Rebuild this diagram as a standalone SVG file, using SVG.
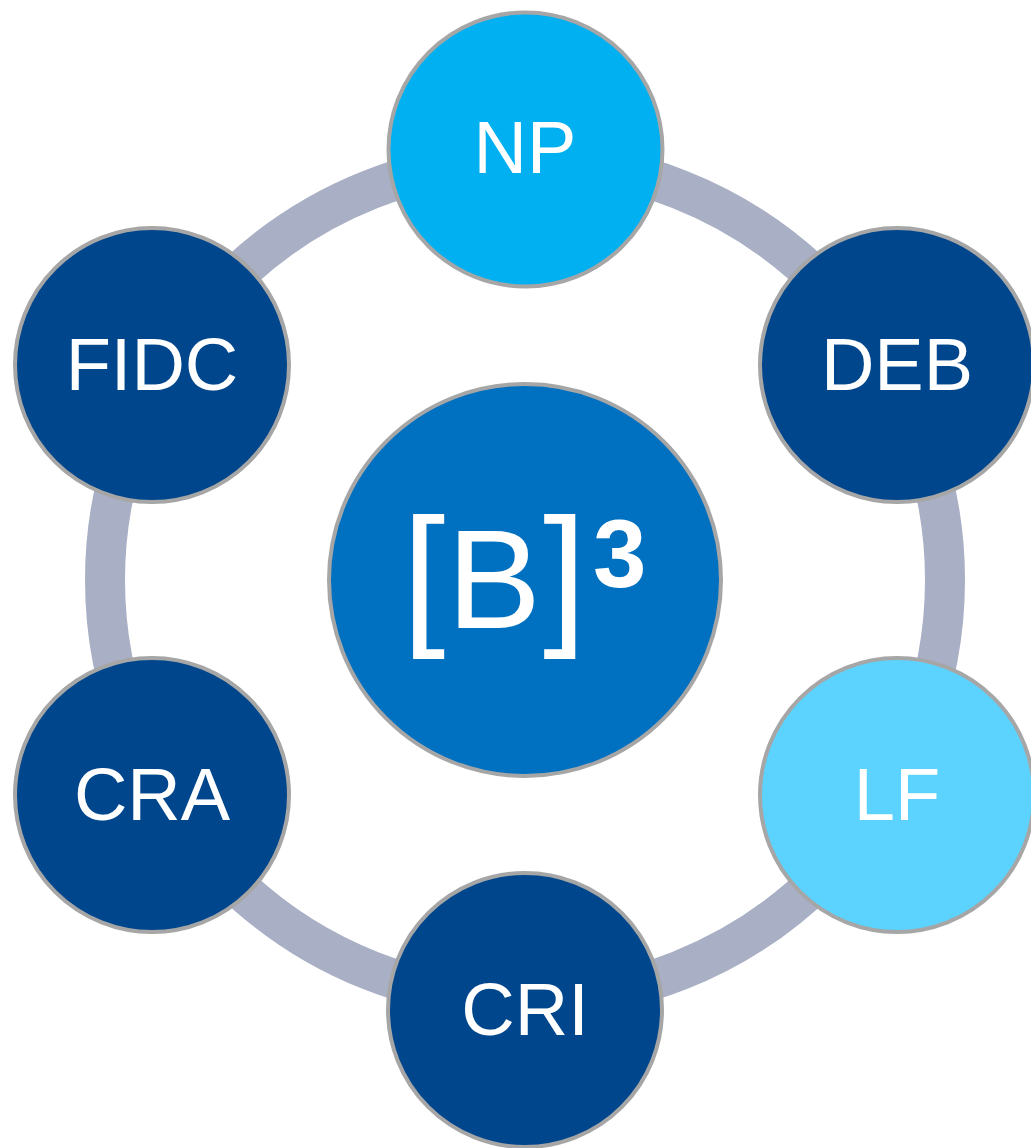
<svg xmlns="http://www.w3.org/2000/svg" width="1031" height="1148" viewBox="0 0 1031 1148">
<style>
.node{stroke:#A6A6A6;stroke-width:4}
.dark{fill:#00468C}
.lbl{font-family:"Liberation Sans",Arial,sans-serif;font-size:74px;fill:#FFFFFF;text-anchor:middle}
.logo{font-family:"Liberation Sans",Arial,sans-serif;fill:#FFFFFF}
</style>
<rect width="1031" height="1148" fill="#FFFFFF"/>
<g id="connectors">
<circle cx="525" cy="580" r="420" fill="none" stroke="#A9AFC4" stroke-width="40"/>
</g>
<g id="center">
<circle class="node" cx="525" cy="580" r="196" fill="#0070C0"/>
<text class="logo" x="402" y="627" font-size="156">[</text>
<text class="logo" x="447" y="628" font-size="141">B</text>
<text class="logo" x="543" y="627" font-size="156">]</text>
<text class="logo" x="593" y="587" font-size="96" font-weight="bold">3</text>
</g>
<g id="NP">
<circle class="node" cx="525.5" cy="149.5" r="137" fill="#00B0F0"/>
<text class="lbl" x="525" y="173">NP</text>
</g>
<g id="DEB">
<circle class="node dark" cx="897" cy="365" r="137"/>
<text class="lbl" x="897" y="390">DEB</text>
</g>
<g id="LF">
<circle class="node" cx="897" cy="795" r="137" fill="#5CD3FF"/>
<text class="lbl" x="897" y="820">LF</text>
</g>
<g id="CRI">
<circle class="node dark" cx="525" cy="1010" r="137"/>
<text class="lbl" x="525" y="1035">CRI</text>
</g>
<g id="CRA">
<circle class="node dark" cx="152" cy="795" r="137"/>
<text class="lbl" x="152" y="820">CRA</text>
</g>
<g id="FIDC">
<circle class="node dark" cx="152" cy="365" r="137"/>
<text class="lbl" x="152" y="390">FIDC</text>
</g>
</svg>
